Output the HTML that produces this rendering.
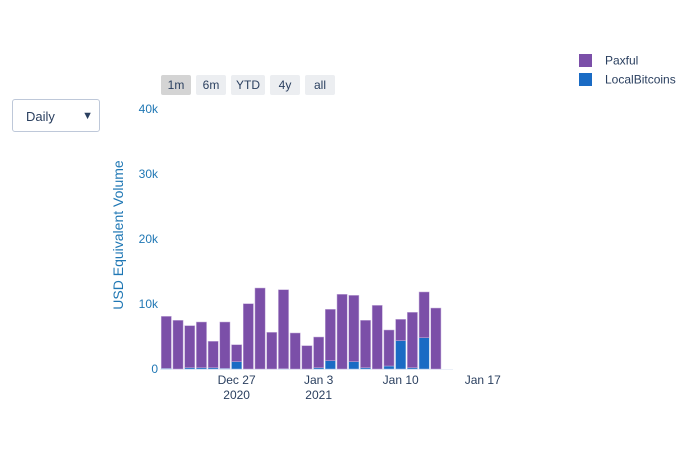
<!DOCTYPE html>
<html><head><meta charset="utf-8"><style>
body{margin:0;background:#fff;font-family:"Liberation Sans",sans-serif;}
#wrap{position:relative;width:700px;height:450px;overflow:hidden;}
.btn{position:absolute;top:75px;height:20px;background:#eceef1;border-radius:2px;font-size:12px;color:#2a3f5f;text-align:center;line-height:20px;}
</style></head><body>
<div id="wrap">
<div style="position:absolute;left:12px;top:99px;width:88px;height:33px;border:1px solid #bec8d9;border-radius:3px;font-size:13px;color:#2a3f5f;line-height:33px;box-sizing:border-box;padding-left:13px;">Daily<span style="position:absolute;right:6px;font-size:11px;">▼</span></div>
<div class="btn" style="left:161px;width:30px;background:#d4d4d4;">1m</div>
<div class="btn" style="left:196px;width:30px;">6m</div>
<div class="btn" style="left:231px;width:34px;">YTD</div>
<div class="btn" style="left:270px;width:30px;">4y</div>
<div class="btn" style="left:305px;width:30px;">all</div>
<svg id="svg" width="700" height="450" style="position:absolute;left:0;top:0;pointer-events:none;" font-family="Liberation Sans, sans-serif">
<g>
<rect x="579" y="54" width="13" height="13" fill="#7b4fa8"/>
<text x="605" y="64.5" font-size="12" fill="#2a3f5f">Paxful</text>
<rect x="579" y="73" width="13" height="13" fill="#1a6bc4"/>
<text x="605" y="83.5" font-size="12" fill="#2a3f5f">LocalBitcoins</text>
</g>
<text transform="translate(123,235) rotate(-90)" text-anchor="middle" font-size="14" fill="#1f77b4">USD Equivalent Volume</text>
<g id="yt"></g><g id="xt"></g><g id="bars"></g>
</svg>
</div>
<script>
const days=["Dec 21","Dec 22","Dec 23","Dec 24","Dec 25","Dec 26","Dec 27","Dec 28","Dec 29","Dec 30","Dec 31","Jan 1","Jan 2","Jan 3","Jan 4","Jan 5","Jan 6","Jan 7","Jan 8","Jan 9","Jan 10","Jan 11","Jan 12","Jan 13"];
const localBitcoins=[100,0,200,200,200,100,1130,0,0,0,50,0,0,200,1280,0,1130,200,0,460,4360,200,4820,0];
const paxful=[8000,7490,6470,7030,4060,7130,2610,10050,12460,5640,12150,5540,3590,4720,7900,11490,10200,7290,9790,5540,3280,8520,7030,9380];
const yTicks=[0,10000,20000,30000,40000];
const yTickLabels=["0","10k","20k","30k","40k"];
const xTickIdx=[6,13,20,27];
const xTickLabels=["Dec 27","Jan 3","Jan 10","Jan 17"];
const xTickYears=["2020","2021","",""];
const NS="http://www.w3.org/2000/svg";
const y0=369,pxPer=65/10000,x0=166.3,dx=11.72,bw=10.2;
const Y=v=>y0-v*pxPer, X=i=>x0+i*dx;
function mk(t,a,p){const e=document.createElementNS(NS,t);for(const k in a)e.setAttribute(k,a[k]);p.appendChild(e);return e;}
const yt=document.getElementById('yt'),xt=document.getElementById('xt'),bars=document.getElementById('bars');
yTicks.forEach((v,i)=>{
 if(v>0){const g=mk('line',{x1:160,x2:453,y1:Y(v),y2:Y(v),stroke:'#fff'},yt);}
 const t=mk('text',{x:158,y:Y(v)+4,'text-anchor':'end','font-size':12,fill:'#1f77b4'},yt);t.textContent=yTickLabels[i];
 
 
});
mk('line',{x1:160,x2:453,y1:y0+0.5,y2:y0+0.5,stroke:'#ebf0f8'},yt);
xTickIdx.forEach((d,i)=>{
 const t=mk('text',{x:X(d),y:384,'text-anchor':'middle','font-size':12,fill:'#2a3f5f'},xt);t.textContent=xTickLabels[i];
 
 
 if(xTickYears[i]){const t2=mk('text',{x:X(d),y:399,'text-anchor':'middle','font-size':12,fill:'#2a3f5f'},xt);t2.textContent=xTickYears[i];
 
 }
});
days.forEach((d,i)=>{
 const lb=localBitcoins[i],px=paxful[i];
 const r1=mk('rect',{x:X(i)-bw/2,y:Y(lb),width:bw,height:Y(0)-Y(lb),fill:'#1a6bc4',stroke:'#a9c4e6','stroke-width':0.5},bars);
 
 
 const r2=mk('rect',{x:X(i)-bw/2,y:Y(lb+px),width:bw,height:Y(lb)-Y(lb+px),fill:'#7b4fa8',stroke:'#c6b0dc','stroke-width':0.5},bars);
 
 
});
</script>
</body></html>
